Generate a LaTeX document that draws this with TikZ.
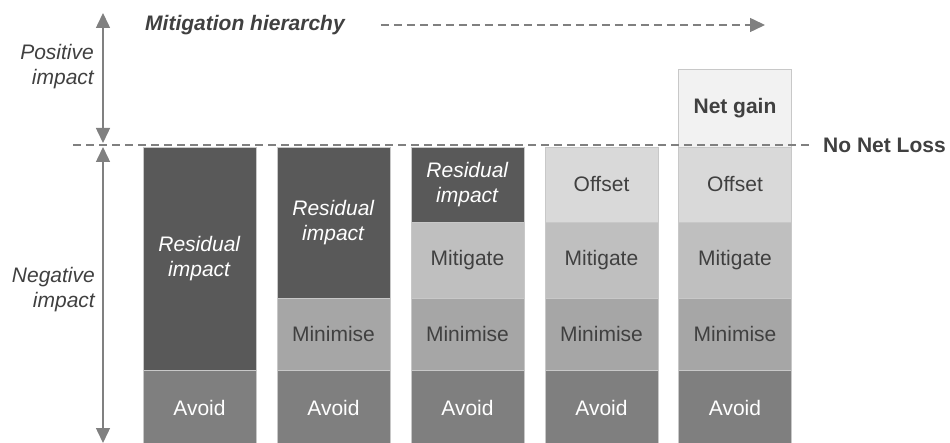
\documentclass[tikz,border=0pt]{standalone}
\usepackage{fontspec}
\setmainfont{Liberation Sans}
\usetikzlibrary{arrows.meta}
\definecolor{resid}{HTML}{595959}
\definecolor{avoidc}{HTML}{7F7F7F}
\definecolor{minic}{HTML}{A6A6A6}
\definecolor{mitic}{HTML}{BFBFBF}
\definecolor{offc}{HTML}{D9D9D9}
\definecolor{gainc}{HTML}{F2F2F2}
\definecolor{segedge}{HTML}{C8C8C8}
\definecolor{axisgray}{HTML}{808080}
\definecolor{textgray}{HTML}{404040}
\begin{document}
\begin{tikzpicture}[x=1pt, y=-1pt,
    seg/.style={draw=segedge, line width=0.8pt, minimum width=113pt, inner sep=0pt,
        align=center, font=\fontsize{21}{25}\selectfont},
    darkseg/.style={seg, fill=#1, text=white},
    lightseg/.style={seg, fill=#1, text=textgray},
    lbl/.style={text=textgray, font=\fontsize{21}{25}\selectfont\itshape, align=right, inner sep=0pt},
    impactarrow/.style={draw=axisgray, line width=1.5pt,
        {Triangle[width=14pt,length=15pt]}-{Triangle[width=14pt,length=15pt]}},
    dashline/.style={draw=axisgray, line width=1.5pt, dash pattern=on 8pt off 5pt}]
    % Rahmen
    \clip (0,0) rectangle (950,443);
    % Saeule 1
    \node[darkseg=resid, minimum height=223pt] (res1) at (199.5,258.5) {\textit{Residual}\\\textit{impact}};
    \node[darkseg=avoidc, minimum height=76pt] (av1) at (199.5,408) {Avoid};
    % Saeule 2
    \node[darkseg=resid, minimum height=151pt] (res2) at (333.5,222.5) {\textit{Residual}\\\textit{impact}};
    \node[lightseg=minic, minimum height=72pt] (min2) at (333.5,334) {Minimise};
    \node[darkseg=avoidc, minimum height=76pt] (av2) at (333.5,408) {Avoid};
    % Saeule 3
    \node[darkseg=resid, minimum height=75pt] (res3) at (467.5,184.5) {\textit{Residual}\\\textit{impact}};
    \node[lightseg=mitic, minimum height=76pt] (mit3) at (467.5,260) {Mitigate};
    \node[lightseg=minic, minimum height=72pt] (min3) at (467.5,334) {Minimise};
    \node[darkseg=avoidc, minimum height=76pt] (av3) at (467.5,408) {Avoid};
    % Saeule 4
    \node[lightseg=offc, minimum height=75pt] (off4) at (601.5,184.5) {Offset};
    \node[lightseg=mitic, minimum height=76pt] (mit4) at (601.5,260) {Mitigate};
    \node[lightseg=minic, minimum height=72pt] (min4) at (601.5,334) {Minimise};
    \node[darkseg=avoidc, minimum height=76pt] (av4) at (601.5,408) {Avoid};
    % Saeule 5
    \node[lightseg=gainc, minimum height=78pt, font=\fontsize{21}{25}\selectfont\bfseries] (gain5) at (735,108) {Net gain};
    \node[lightseg=offc, minimum height=75pt] (off5) at (735,184.5) {Offset};
    \node[lightseg=mitic, minimum height=76pt] (mit5) at (735,260) {Mitigate};
    \node[lightseg=minic, minimum height=72pt] (min5) at (735,334) {Minimise};
    \node[darkseg=avoidc, minimum height=76pt] (av5) at (735,408) {Avoid};
    % No Net Loss Linie
    \coordinate (nnlstart) at (73,145);
    \node[text=textgray, font=\fontsize{21}{25}\selectfont\bfseries, anchor=west, inner sep=0pt] (nnl) at (823,145) {No Net Loss};
    \draw[dashline, shorten >=13pt] (nnlstart) -- (nnl.west);
    % Mitigation hierarchy
    \node[text=textgray, font=\fontsize{21}{25}\selectfont\bfseries\itshape, anchor=west, inner sep=0pt] (mh) at (145,25) {Mitigation hierarchy};
    \coordinate (mhend) at (765,25);
    \draw[dashline, -{Triangle[width=14pt,length=15pt]}] ([xshift=36pt]mh.east) -- (mhend);
    % Positive / Negative impact
    \coordinate (postop) at (103,13);
    \coordinate (posbot) at (103,143);
    \coordinate (negtop) at (103,147);
    \coordinate (negbot) at (103,443);
    \draw[impactarrow] (postop) -- (posbot);
    \draw[impactarrow] (negtop) -- (negbot);
    \node[lbl, anchor=east] (pos) at (94,67) {Positive\\impact};
    \node[lbl, anchor=east] (neg) at (95,290) {Negative\\impact};
\end{tikzpicture}
\end{document}
